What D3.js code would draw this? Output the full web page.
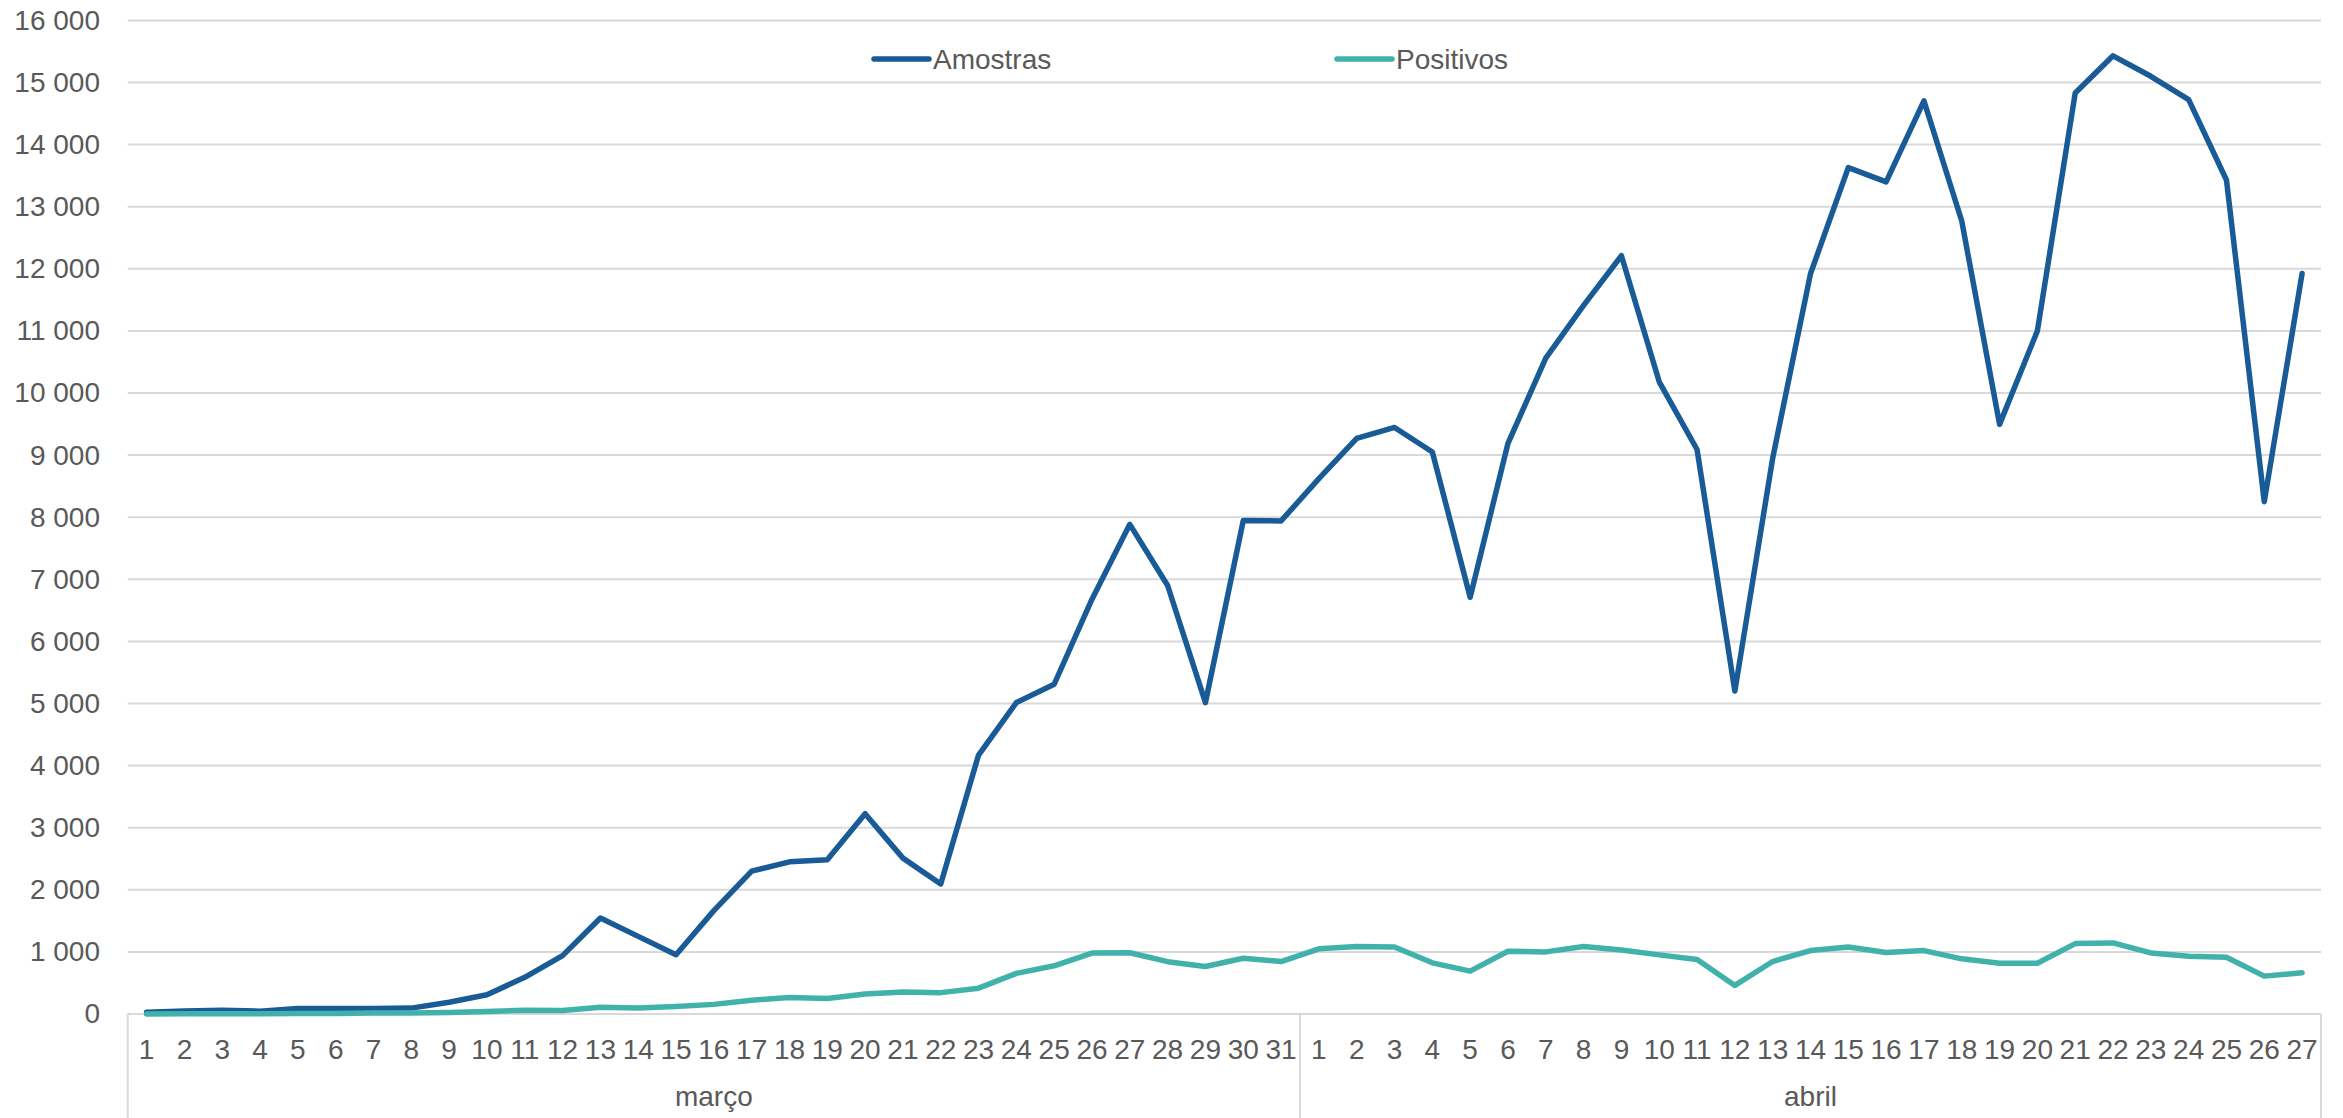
<!DOCTYPE html>
<html>
<head>
<meta charset="utf-8">
<script src="https://cdn.jsdelivr.net/npm/d3@7"></script>
<style>
  html, body { margin: 0; padding: 0; background: #ffffff; }
  svg { display: block; font-family: "Liberation Sans", Arial, sans-serif; }
</style>
</head>
<body>
<svg id="chart" width="2343" height="1118"></svg>
<script>
// ---- DATA ----
const months = ["março", "abril"];
const marchDays = d3.range(1, 32).map(String);
const aprilDays = d3.range(1, 28).map(String);

const amostrasMarco = [30, 50, 60, 45, 90, 90, 90, 95, 190, 310, 590, 940, 1545, 1250, 955, 1665,
  2300, 2450, 2485, 3225, 2510, 2095, 4170, 5015, 5310, 6680, 7885, 6900, 5015, 7945, 7940];
const amostrasAbril = [8620, 9270, 9445, 9050, 6710, 9190, 10560, 11410, 12210, 10180, 9090, 5200,
  8950, 11920, 13630, 13400, 14705, 12770, 9495, 11000, 14830, 15430, 15100, 14725, 13430, 8250, 11925];

const positivosMarco = [2, 3, 5, 5, 8, 10, 15, 18, 25, 40, 60, 55, 110, 95, 120, 155,
  222, 266, 250, 321, 355, 344, 416, 654, 776, 981, 987, 843, 765, 898, 845];
const positivosAbril = [1050, 1086, 1080, 824, 690, 1011, 1000, 1086, 1032, 952, 877, 460,
  845, 1021, 1080, 989, 1021, 888, 818, 818, 1134, 1144, 984, 930, 914, 610, 663];

const seriesNames = ["Amostras", "Positivos"];
const seriesColors = ["#195b97", "#41b2ab"];
const yTicks = d3.range(0, 16001, 1000);

// ---- BUILD ----
(function () {
  const cats = [
    ...marchDays.map(d => ({ key: "m" + d, day: d, month: months[0] })),
    ...aprilDays.map(d => ({ key: "a" + d, day: d, month: months[1] }))
  ];
  const seriesData = [
    amostrasMarco.concat(amostrasAbril),
    positivosMarco.concat(positivosAbril)
  ];

  const svg = d3.select("#chart");
  const plotLeft = 127.7, plotRight = 2321, plotTop = 20.4, plotBottom = 1014;
  const textColor = "#595959", gridColor = "#d9d9d9";
  const fontSize = 28;

  const x = d3.scaleBand().domain(cats.map(c => c.key)).range([plotLeft, plotRight]).padding(0);
  const y = d3.scaleLinear().domain([0, 16000]).range([plotBottom, plotTop]);

  const locale = d3.formatLocale({ decimal: ",", thousands: " ", grouping: [3], currency: ["", ""] });
  const fmt = locale.format(",");

  // gridlines
  svg.append("g").selectAll("line").data(yTicks).join("line")
    .attr("x1", plotLeft).attr("x2", plotRight)
    .attr("y1", d => y(d)).attr("y2", d => y(d))
    .attr("stroke", gridColor).attr("stroke-width", 2);

  // y axis labels
  const yAxis = d3.axisLeft(y).tickValues(yTicks).tickFormat(fmt).tickSize(0).tickPadding(0);
  const gy = svg.append("g").attr("transform", `translate(${100},0)`).call(yAxis);
  gy.select(".domain").remove();
  gy.selectAll("text").attr("fill", textColor).style("font-size", fontSize + "px")
    .style("font-family", '"Liberation Sans", Arial, sans-serif');

  // x axis (day labels)
  const dayOf = new Map(cats.map(c => [c.key, c.day]));
  const xAxis = d3.axisBottom(x).tickFormat(k => dayOf.get(k)).tickSize(0).tickPadding(0);
  const gx = svg.append("g").attr("transform", `translate(0,${plotBottom})`).call(xAxis);
  gx.select(".domain").remove();
  gx.selectAll("text").attr("fill", textColor).attr("y", 45).attr("dy", 0)
    .style("font-size", fontSize + "px")
    .style("font-family", '"Liberation Sans", Arial, sans-serif');

  // month groups: separators and labels
  const groups = months.map(m => {
    const keys = cats.filter(c => c.month === m).map(c => c.key);
    return { month: m, x0: x(keys[0]), x1: x(keys[keys.length - 1]) + x.bandwidth() };
  });
  const sepX = [groups[0].x0, ...groups.map(g => g.x1)];
  svg.append("g").selectAll("line").data(sepX).join("line")
    .attr("x1", d => d).attr("x2", d => d)
    .attr("y1", plotBottom).attr("y2", 1118)
    .attr("stroke", gridColor).attr("stroke-width", 2);
  svg.append("g").selectAll("text").data(groups).join("text")
    .attr("x", g => (g.x0 + g.x1) / 2).attr("y", 1106)
    .attr("text-anchor", "middle").attr("fill", textColor)
    .style("font-size", fontSize + "px")
    .text(g => g.month);

  // lines
  const line = d3.line()
    .x((d, i) => x(cats[i].key) + x.bandwidth() / 2)
    .y(d => y(d));
  svg.append("g").selectAll("path").data(seriesData).join("path")
    .attr("d", d => line(d))
    .attr("fill", "none")
    .attr("stroke", (d, i) => seriesColors[i])
    .attr("stroke-width", 5.5)
    .attr("stroke-linejoin", "round")
    .attr("stroke-linecap", "round");

  // legend
  const legendX = [874, 1337];
  const legend = svg.append("g").selectAll("g").data(seriesNames).join("g")
    .attr("transform", (d, i) => `translate(${legendX[i]},59)`);
  legend.append("line").attr("x1", 0).attr("x2", 55).attr("y1", 0).attr("y2", 0)
    .attr("stroke", (d, i) => seriesColors[i]).attr("stroke-width", 5.5).attr("stroke-linecap", "round");
  legend.append("text").attr("x", 59).attr("y", 0).attr("dy", "0.35em")
    .attr("fill", textColor).style("font-size", fontSize + "px").text(d => d);
})();
</script>
</body>
</html>
